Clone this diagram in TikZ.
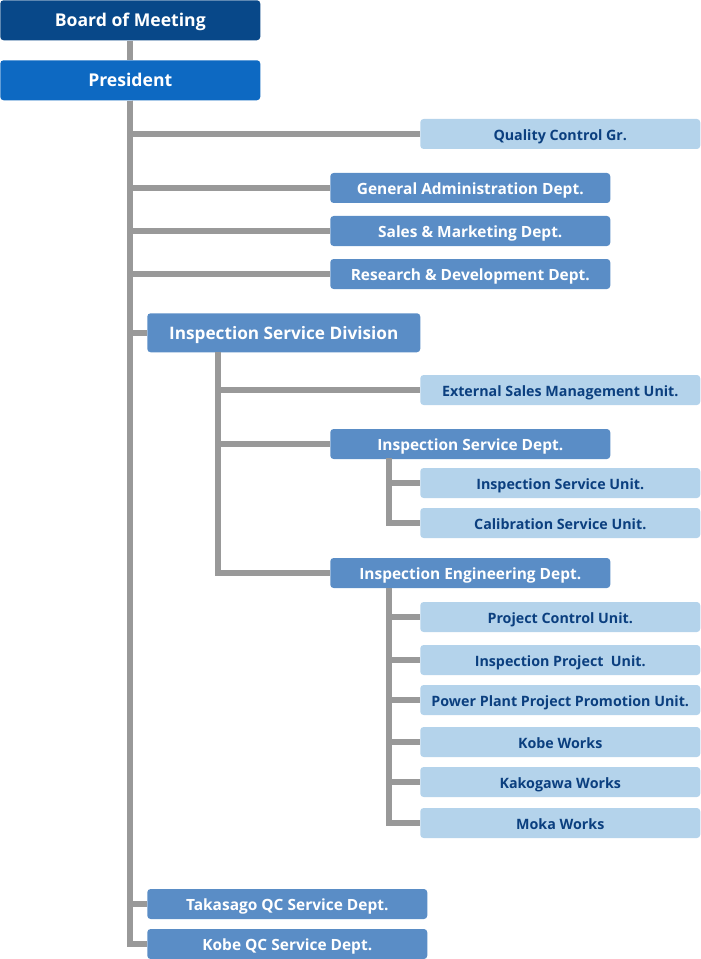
\documentclass[tikz,border=0pt]{standalone}
\usepackage{fontspec}
\setmainfont{Open Sans}
\usetikzlibrary{positioning}
\definecolor{boardblue}{HTML}{084889}
\definecolor{presblue}{HTML}{0D69C2}
\definecolor{deptblue}{HTML}{5A8DC6}
\definecolor{unitblue}{HTML}{B4D3EB}
\definecolor{unittext}{HTML}{0B3F7F}
\definecolor{linegray}{HTML}{999999}

\begin{document}
\begin{tikzpicture}[x=0.75pt,y=-0.75pt,
    top/.style={rounded corners=2.5pt, inner sep=0pt, minimum width=195pt, minimum height=30pt,
        text height=0.95em, text depth=0pt,
        text=white, font=\bfseries\fontsize{13.2}{15}\selectfont},
    dept/.style={rounded corners=2.5pt, inner sep=0pt, minimum width=210pt, minimum height=22.5pt,
        text height=0.95em, text depth=0pt,
        fill=deptblue, text=white, font=\bfseries\fontsize{11.6}{13}\selectfont},
    unit/.style={dept, fill=unitblue, text=unittext, font=\bfseries\fontsize{10.7}{12}\selectfont},
    conn/.style={draw=linegray, line width=4.5pt}]
\useasboundingbox (0,0) rectangle (700,959);

% top of the tree
\node[top, fill=boardblue, anchor=north west] (board) at (0,0) {Board of Meeting};
\node[top, fill=presblue, anchor=north west] (pres) at (0,60) {President};

% staff groups under the president
\node[unit, anchor=west] (qcgr) at (420,134) {Quality Control Gr.};
\node[dept, anchor=west] (genadm) at (330,188) {General Administration Dept.};
\node[dept, anchor=west] (sales) at (330,231) {Sales \& Marketing Dept.};
\node[dept, anchor=west] (rnd) at (330,274) {Research \& Development Dept.};

% inspection service division
\node[dept, anchor=north west, minimum width=204.75pt, minimum height=29.25pt,
    font=\bfseries\fontsize{12.9}{15}\selectfont] (isdiv) at (147,313) {Inspection Service Division};
\node[unit, anchor=west] (extsales) at (420,390) {External Sales Management Unit.};
\node[dept, anchor=west] (isdept) at (330,444) {Inspection Service Dept.};
\node[unit, anchor=west] (isunit) at (420,483) {Inspection Service Unit.};
\node[unit, anchor=west] (calunit) at (420,523) {Calibration Service Unit.};
\node[dept, anchor=west] (iedept) at (330,573) {Inspection Engineering Dept.};
\node[unit, anchor=west] (pcunit) at (420,617) {Project Control Unit.};
\node[unit, anchor=west] (ipunit) at (420,660) {Inspection Project\ \ Unit.};
\node[unit, anchor=west] (ppunit) at (420,700) {Power Plant Project Promotion Unit.};
\node[unit, anchor=west] (kobew) at (420,742) {Kobe Works};
\node[unit, anchor=west] (kakow) at (420,782) {Kakogawa Works};
\node[unit, anchor=west] (mokaw) at (420,823) {Moka Works};

% QC service depts
\node[dept, anchor=west] (takqc) at (147,904) {Takasago QC Service Dept.};
\node[dept, anchor=west] (kobqc) at (147,944) {Kobe QC Service Dept.};

% trunk points
\coordinate (divtop) at (218,352);
\coordinate (isdtop) at (389,458);
\coordinate (iedtop) at (389,588);

% connectors
\draw[conn] (board.south) -- (pres.north);
\foreach \n in {qcgr,genadm,sales,rnd,isdiv,takqc,kobqc}
    \draw[conn] (pres.south) |- (\n.west);
\foreach \n in {extsales,isdept,iedept}
    \draw[conn] (divtop) |- (\n.west);
\foreach \n in {isunit,calunit}
    \draw[conn] (isdtop) |- (\n.west);
\foreach \n in {pcunit,ipunit,ppunit,kobew,kakow,mokaw}
    \draw[conn] (iedtop) |- (\n.west);
\end{tikzpicture}
\end{document}
